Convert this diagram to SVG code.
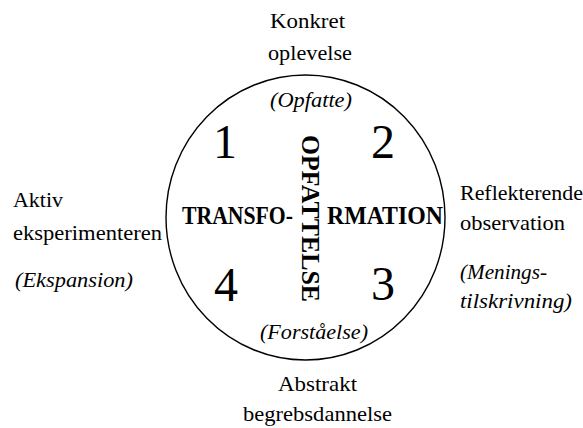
<svg xmlns="http://www.w3.org/2000/svg" width="583" height="428" viewBox="0 0 583 428">
<style>
text{font-family:"Liberation Serif","Times New Roman",serif;font-size:22px;font-weight:400;fill:#000}
.i{font-style:italic;font-size:21px}
.b{font-weight:bold;font-size:26px}
.n{font-size:48px}
.c{fill:none;stroke:#000;stroke-width:1.4}
</style>
<rect width="583" height="428" fill="#fff"/>
<g id="cycle">
<ellipse class="c" cx="305.5" cy="217.5" rx="139.5" ry="142.5"/>
</g>
<g id="q1"><text class="n" x="225" y="158" text-anchor="middle">1</text></g>
<g id="q2"><text class="n" x="383" y="158" text-anchor="middle">2</text></g>
<g id="q3"><text class="n" x="383" y="300" text-anchor="middle">3</text></g>
<g id="q4"><text class="n" x="226" y="301" text-anchor="middle">4</text></g>
<g id="transformation">
<text class="b" x="182" y="224" textLength="111" lengthAdjust="spacingAndGlyphs">TRANSFO-</text>
<text class="b" x="327" y="224" textLength="116" lengthAdjust="spacingAndGlyphs">RMATION</text>
</g>
<g id="opfattelse">
<text class="b" transform="translate(302,135) rotate(90)" x="0" y="0" textLength="167" lengthAdjust="spacingAndGlyphs">OPFATTELSE</text>
</g>
<g id="top">
<text x="270" y="28" textLength="75" lengthAdjust="spacingAndGlyphs">Konkret</text>
<text x="268" y="60" textLength="84" lengthAdjust="spacingAndGlyphs">oplevelse</text>
<text class="i" x="270" y="107" textLength="82" lengthAdjust="spacingAndGlyphs">(Opfatte)</text>
</g>
<g id="left">
<text x="13" y="207" textLength="50" lengthAdjust="spacingAndGlyphs">Aktiv</text>
<text x="13" y="240" textLength="149" lengthAdjust="spacingAndGlyphs">eksperimenteren</text>
<text class="i" x="15" y="287" textLength="118" lengthAdjust="spacingAndGlyphs">(Ekspansion)</text>
</g>
<g id="right">
<text x="460" y="200" textLength="123" lengthAdjust="spacingAndGlyphs">Reflekterende</text>
<text x="460" y="230" textLength="105" lengthAdjust="spacingAndGlyphs">observation</text>
<text class="i" x="460" y="279" textLength="87" lengthAdjust="spacingAndGlyphs">(Menings-</text>
<text class="i" x="460" y="308" textLength="112" lengthAdjust="spacingAndGlyphs">tilskrivning)</text>
</g>
<g id="bottom">
<text class="i" x="260" y="339" textLength="108" lengthAdjust="spacingAndGlyphs">(Forståelse)</text>
<text x="278" y="391" textLength="79" lengthAdjust="spacingAndGlyphs">Abstrakt</text>
<text x="243" y="421" textLength="149" lengthAdjust="spacingAndGlyphs">begrebsdannelse</text>
</g>
</svg>
